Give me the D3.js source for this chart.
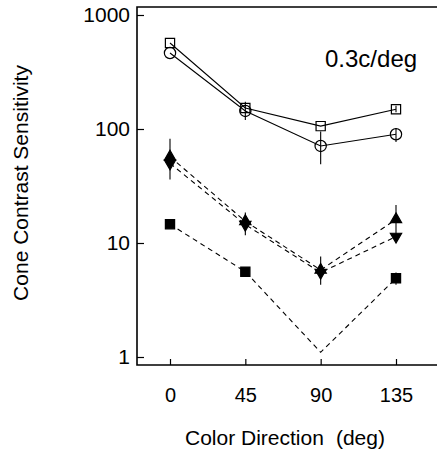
<!DOCTYPE html>
<meta charset="utf-8">
<script src="https://d3js.org/d3.v7.min.js"></script>
<style>
  body { margin: 0; background: #fff; }
  text { font-family: "Liberation Sans", Arial, sans-serif; fill: #000; }
</style>
<div id="chart"></div>
<script>

// color directions (deg)
var directions = [0, 45, 90, 135];

// open markers, solid lines
var openSquare = [568, 153, 106, 149];
var openCircle = [464, 144, 71, 90];
// filled markers, dashed lines
var upTriangle = [57, 15.5, 5.8, 16.1];
var downTriangle = [50, 14.5, 5.5, 11.4];
var filledSquare = [14.6, 5.6, 1.1, 4.9];
var filledSquareShown = [true, true, false, true];

// error bars [low, high], null = none
var openSquareErr = [null, null, null, [140, 160]];
var openCircleErr = [null, [120, 173], [49, 95], [77, 102]];
var upTriangleErr = [[45, 82], [13, 18.5], [5, 7.6], [13, 21.5]];
var downTriangleErr = [[36, 60], [11.7, 17], [4.3, 6.5], [10.3, 13]];
var filledSquareErr = [null, null, null, [4.3, 5.5]];

var yTicks = [1, 10, 100, 1000];

var W = 437, H = 457;
var plotLeft = 137, plotRight = 437, plotTop = 7, plotBottom = 365;

var svg = d3.select("#chart")
  .append("svg")
    .attr("width", W)
    .attr("height", H);

var x = d3.scaleLinear()
  .domain([0, 135])
  .range([170, 396]);

var y = d3.scaleLog()
  .domain([1, 1000])
  .range([357, 15]);

// frame: top, left and bottom lines
svg.append("path")
  .attr("d", "M" + plotRight + "," + plotTop + "H" + plotLeft + "V" + plotBottom + "H" + plotRight)
  .attr("fill", "none")
  .attr("stroke", "#000")
  .attr("stroke-width", 1.6);

// Y axis
svg.append("g")
  .attr("transform", "translate(" + plotLeft + ",0)")
  .call(d3.axisLeft(y).tickValues(yTicks).tickFormat(d3.format("d"))
    .tickSizeInner(-7).tickSizeOuter(0).tickPadding(7))
  .call(function(g) { g.select(".domain").remove(); })
  .call(function(g) {
    g.selectAll("line").attr("stroke-width", 1.2);
    g.selectAll("text").style("font-size", "21px");
  });

// X axis
svg.append("g")
  .attr("transform", "translate(0," + plotBottom + ")")
  .call(d3.axisBottom(x).tickValues(directions)
    .tickSizeInner(-6).tickSizeOuter(0).tickPadding(23))
  .call(function(g) { g.select(".domain").remove(); })
  .call(function(g) {
    g.selectAll("line").attr("stroke-width", 1.2);
    g.selectAll("text").style("font-size", "20px");
  });

// axis titles
svg.append("text")
  .attr("transform", "translate(28,183) rotate(-90)")
  .style("text-anchor", "middle")
  .style("font-size", "21px")
  .text("Cone Contrast Sensitivity");

var xTitle = svg.append("text")
  .attr("x", 185)
  .attr("y", 445)
  .style("font-size", "21px");
xTitle.append("tspan").text("Color Direction");
xTitle.append("tspan").attr("dx", 12).text("(deg)");

svg.append("text")
  .attr("x", 325)
  .attr("y", 67)
  .style("font-size", "24px")
  .text("0.3c/deg");

// series setup
var series = [
  {vals: openSquare, err: openSquareErr, sym: d3.symbolSquare, size: 85, fill: "none", dash: null, rot: 0},
  {vals: openCircle, err: openCircleErr, sym: d3.symbolCircle, size: 100, fill: "none", dash: null, rot: 0},
  {vals: upTriangle, err: upTriangleErr, sym: d3.symbolTriangle, size: 55, fill: "#000", dash: "5,4", rot: 0},
  {vals: downTriangle, err: downTriangleErr, sym: d3.symbolTriangle, size: 55, fill: "#000", dash: "5,4", rot: 180},
  {vals: filledSquare, err: filledSquareErr, sym: d3.symbolSquare, size: 85, fill: "#000", dash: "5,4", rot: 0, shown: filledSquareShown}
];

var line = d3.line()
  .x(function(d) { return x(d[0]); })
  .y(function(d) { return y(d[1]); });

series.forEach(function(s) {
  var pts = directions.map(function(d, i) { return [d, s.vals[i], i]; });

  svg.append("path")
    .datum(pts)
    .attr("d", line)
    .attr("fill", "none")
    .attr("stroke", "#000")
    .attr("stroke-width", 1.1)
    .attr("stroke-dasharray", s.dash);

  // error bars
  svg.append("g").selectAll("line")
    .data(pts.filter(function(p) { return s.err[p[2]]; }))
    .enter()
    .append("line")
      .attr("x1", function(p) { return x(p[0]); })
      .attr("x2", function(p) { return x(p[0]); })
      .attr("y1", function(p) { return y(s.err[p[2]][0]); })
      .attr("y2", function(p) { return y(s.err[p[2]][1]); })
      .attr("stroke", "#000")
      .attr("stroke-width", 1.1);

  // markers
  svg.append("g").selectAll("path")
    .data(pts.filter(function(p) { return !s.shown || s.shown[p[2]]; }))
    .enter()
    .append("path")
      .attr("d", d3.symbol().type(s.sym).size(s.size))
      .attr("transform", function(p) {
        return "translate(" + x(p[0]) + "," + y(p[1]) + ") rotate(" + s.rot + ")";
      })
      .attr("fill", s.fill)
      .attr("stroke", "#000")
      .attr("stroke-width", 1.2);
});

</script>
